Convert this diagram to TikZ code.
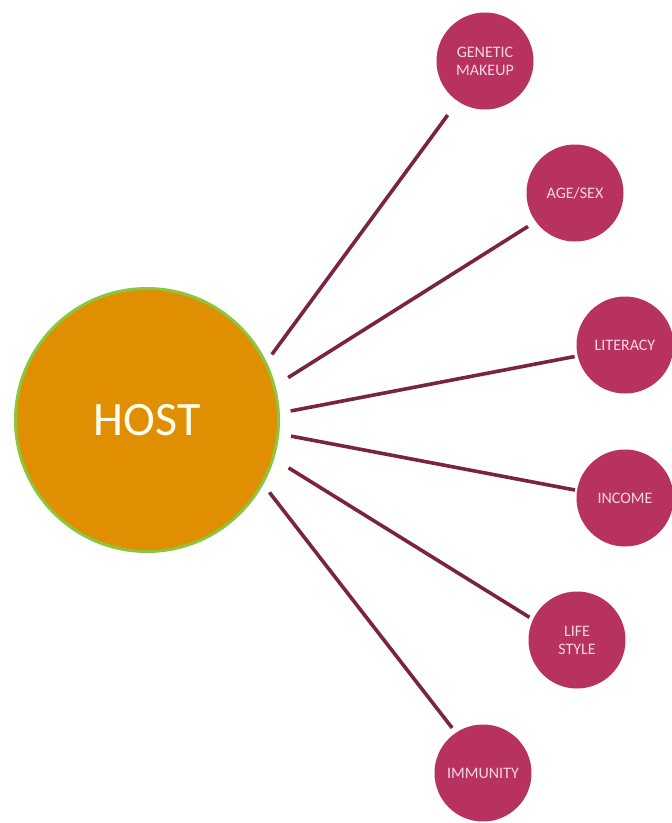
\documentclass[tikz,border=0pt]{standalone}
\usepackage{fontspec}
\setmainfont{Carlito}
\definecolor{hostfill}{HTML}{E08F02}
\definecolor{hostedge}{HTML}{8CC63F}
\definecolor{factorfill}{HTML}{B8325F}
\definecolor{factortext}{HTML}{F7D6E4}
\definecolor{linkcol}{HTML}{7A2444}
\tikzset{
  hostnode/.style={circle, fill=hostfill, draw=hostedge, line width=3pt,
    minimum size=263pt, inner sep=0pt, text=white!92!yellow,
    font=\fontsize{48}{50}\selectfont},
  factor/.style={circle, fill=factorfill, minimum size=97pt, inner sep=0pt,
    text=factortext, align=center,
    font=\fontsize{16}{18}\selectfont},
  link/.style={draw=linkcol, line width=3.6pt}
}
\begin{document}
\begin{tikzpicture}[x=1pt, y=-1pt]
\useasboundingbox[fill=white] (0,0) rectangle (672,823);
\clip (0,0) rectangle (672,823);

\node[hostnode] (host) at (147,420) {HOST};

\node[factor] (gen) at (485,61)  {GENETIC\\MAKEUP};
\node[factor] (age) at (575,193) {AGE/SEX};
\node[factor] (lit) at (625,345) {LITERACY};
\node[factor] (inc) at (625,498) {INCOME};
\node[factor] (life) at (577,640) {LIFE\\STYLE};
\node[factor] (imm) at (483,773) {IMMUNITY};

% spokes from the host to each factor
\draw[link, shorten <=9pt,  shorten >=17pt] (host.26.9)  -- (gen.236.5);
\draw[link, shorten <=15pt, shorten >=9pt]  (host.15.4)  -- (age.216.9);
\draw[link, shorten <=11pt, shorten >=3pt]  (host.3.9)   -- (lit.193);
\draw[link, shorten <=12pt, shorten >=2pt]  (host.-6.7)  -- (inc.171.3);
\draw[link, shorten <=17pt, shorten >=4pt]  (host.-17.2) -- (life.155.8);
\draw[link, shorten <=10pt, shorten >=6pt]  (host.-29)   -- (imm.124);
\end{tikzpicture}
\end{document}
